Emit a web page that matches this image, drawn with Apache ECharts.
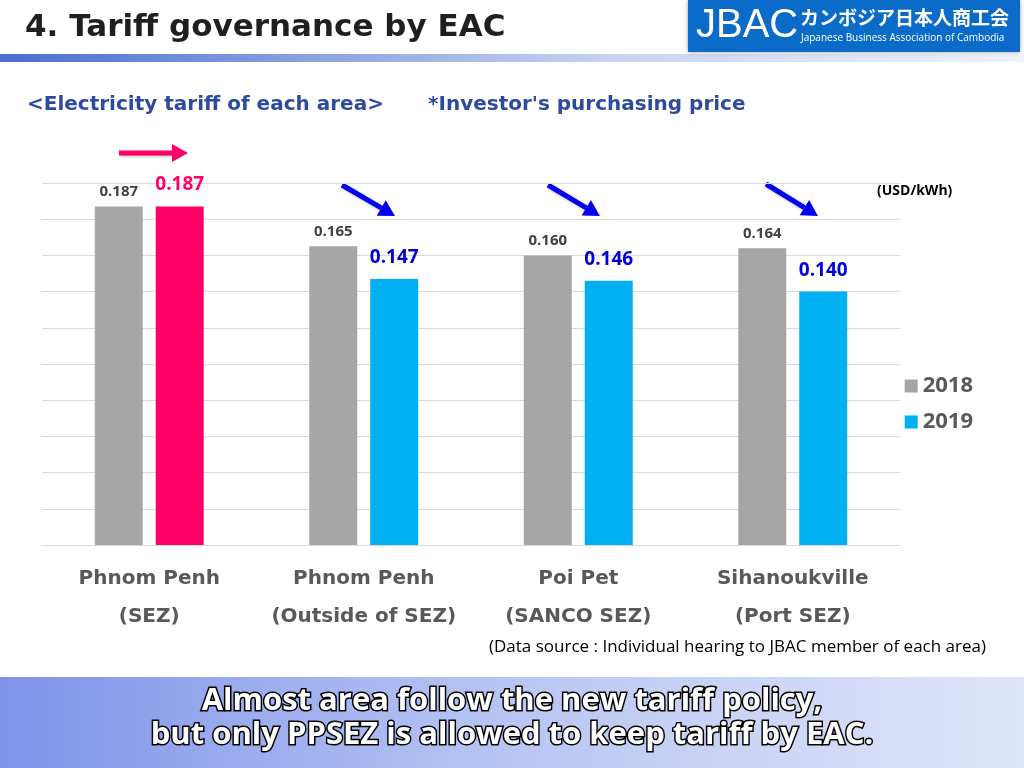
<!DOCTYPE html>
<html>
<head>
<meta charset="utf-8">
<script src="https://cdn.jsdelivr.net/npm/echarts@6/dist/echarts.min.js"></script>
<style>
  html, body { margin: 0; padding: 0; background: #fff; }
  #chart { width: 1024px; height: 768px; }
</style>
</head>
<body>
<div id="chart"></div>
<script>
// data
const areas = ['Phnom Penh\n(SEZ)', 'Phnom Penh\n(Outside of SEZ)', 'Poi Pet\n(SANCO SEZ)', 'Sihanoukville\n(Port SEZ)'];
const tariff2018 = [0.187, 0.165, 0.160, 0.164];
const tariff2019 = [0.187, 0.147, 0.146, 0.140];
const colors2019 = ['#ff0066', '#00b0f0', '#00b0f0', '#00b0f0'];
const labelColors2019 = ['#ff0066', '#0000dd', '#0000dd', '#0000dd'];

const chart = echarts.init(document.getElementById('chart'));
const font = '"Open Sans", "Noto Sans", sans-serif';
const wide = '"DejaVu Sans", sans-serif';

// arrows above each group (horizontal for first, diagonal for others)
const arrows = [
  { x1: 119, y1: 153, x2: 188, y2: 153 },
  { x1: 342, y1: 185, x2: 395, y2: 216 },
  { x1: 548, y1: 185, x2: 600, y2: 216 },
  { x1: 766, y1: 184, x2: 818, y2: 216 }
];
const arrowGraphics = [];
arrows.forEach((a, i) => {
  const col = i === 0 ? '#ff0066' : '#0000ee';
  const ang = Math.atan2(a.y2 - a.y1, a.x2 - a.x1);
  const hl = 16, hw = 9;
  const bx = a.x2 - hl * Math.cos(ang), by = a.y2 - hl * Math.sin(ang);
  arrowGraphics.push({
    type: 'line', shape: { x1: a.x1, y1: a.y1, x2: bx, y2: by },
    style: { stroke: col, lineWidth: 5, shadowBlur: 3, shadowColor: 'rgba(0,0,0,0.3)', shadowOffsetX: 1, shadowOffsetY: 1 }
  });
  arrowGraphics.push({
    type: 'polygon',
    shape: { points: [[a.x2, a.y2],
      [bx + hw * Math.sin(ang), by - hw * Math.cos(ang)],
      [bx - hw * Math.sin(ang), by + hw * Math.cos(ang)]] },
    style: { fill: col }
  });
});

const option = {
  backgroundColor: '#fff',
  animation: false,
  textStyle: { fontFamily: font },
  grid: { left: 42, right: 124, top: 183, bottom: 223 },
  legend: {
    orient: 'vertical', right: 46, top: 370, itemWidth: 13, itemHeight: 13, itemGap: 14,
    icon: 'rect',
    textStyle: { fontSize: 22, fontWeight: 'bold', color: '#595959' },
    data: [{ name: '2018', itemStyle: { color: '#a6a6a6' } }, { name: '2019', itemStyle: { color: '#00b0f0' } }]
  },
  xAxis: {
    type: 'category', data: areas,
    axisLine: { lineStyle: { color: '#d9d9d9' } },
    axisTick: { show: false },
    axisLabel: { interval: 0, color: '#595959', fontFamily: wide, fontSize: 20, fontWeight: 'bold', lineHeight: 38, margin: 15 }
  },
  yAxis: {
    type: 'value', min: 0, max: 0.2, interval: 0.02,
    axisLabel: { show: false }, axisLine: { show: false }, axisTick: { show: false },
    splitLine: { lineStyle: { color: '#d9d9d9' } }
  },
  series: [
    {
      name: '2018', type: 'bar', barWidth: 48, barGap: '27%',
      itemStyle: { color: '#a6a6a6' },
      label: { show: true, position: 'top', distance: 7, color: '#404040', fontSize: 15, fontWeight: 'bold', formatter: p => p.value.toFixed(3) },
      data: tariff2018
    },
    {
      name: '2019', type: 'bar', barWidth: 48,
      data: tariff2019.map((v, i) => ({
        value: v, itemStyle: { color: colors2019[i] },
        label: { color: labelColors2019[i] }
      })),
      label: { show: true, position: 'top', distance: 12, fontSize: 19, fontWeight: 'bold', formatter: p => p.value.toFixed(3) }
    }
  ],
  graphic: [
    // header
    { type: 'text', left: 25, top: 12, style: { text: '4. Tariff governance by EAC', font: 'bold 31px ' + wide, fill: '#1f1f1f' } },
    { type: 'rect', shape: { x: 0, y: 54, width: 1024, height: 8 },
      style: { fill: new echarts.graphic.LinearGradient(0, 0, 1, 0, [{ offset: 0, color: '#4a6fd0' }, { offset: 0.6, color: '#c7d4f0' }, { offset: 1, color: '#eef2fb' }]) } },
    { type: 'rect', shape: { x: 688, y: 0, width: 332, height: 52 }, style: { fill: '#0a6cc8', shadowBlur: 4, shadowColor: 'rgba(0,0,0,0.4)' } },
    { type: 'text', left: 696, top: 6, style: { text: 'JBAC', font: '40px "Liberation Sans", sans-serif', fill: '#fff' } },
    { type: 'text', left: 800, top: 8, style: { text: 'カンボジア日本人商工会', font: 'bold 19px "Noto Sans CJK JP", sans-serif', fill: '#fff' } },
    { type: 'text', left: 801, top: 33, style: { text: 'Japanese Business Association of Cambodia', font: '10px ' + font, fill: '#fff' } },
    // subtitle
    { type: 'text', left: 27, top: 95, style: { text: '<Electricity tariff of each area>', font: 'bold 20px ' + wide, fill: '#2e4a9e' } },
    { type: 'text', left: 428, top: 95, style: { text: '*Investor\'s purchasing price', font: 'bold 20px ' + wide, fill: '#2e4a9e' } },
    { type: 'text', left: 877, top: 184, style: { text: '(USD/kWh)', font: 'bold 14px ' + font, fill: '#000' } },
    { type: 'text', left: 489, top: 639, style: { text: '(Data source : Individual hearing to JBAC member of each area)', font: '17px ' + font, fill: '#000' } },
    // bottom banner
    { type: 'rect', shape: { x: 0, y: 677, width: 1024, height: 91 },
      style: { fill: new echarts.graphic.LinearGradient(0, 0, 1, 0, [{ offset: 0, color: '#7f93ea' }, { offset: 0.5, color: '#b9c6f3' }, { offset: 1, color: '#dfe5f8' }]) } },
    { type: 'text', left: 'center', top: 684, style: { text: 'Almost area follow the new tariff policy,', font: 'bold 31px ' + font, fill: '#fff', stroke: '#000', lineWidth: 3, textAlign: 'center' } },
    { type: 'text', left: 'center', top: 718, style: { text: 'but only PPSEZ is allowed to keep tariff by EAC.', font: 'bold 31px ' + font, fill: '#fff', stroke: '#000', lineWidth: 3, textAlign: 'center' } }
  ].concat(arrowGraphics)
};
chart.setOption(option);
</script>
</body>
</html>
